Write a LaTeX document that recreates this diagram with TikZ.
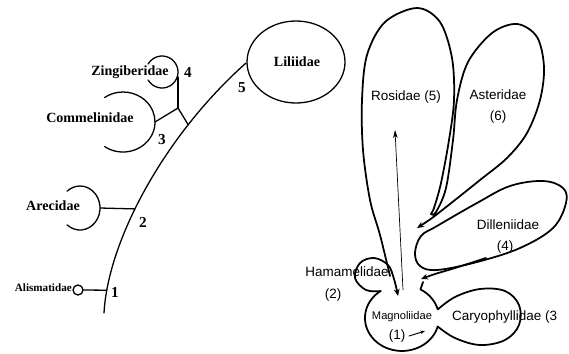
\documentclass[tikz,border=0pt]{standalone}
\usepackage{fontspec}
\setmainfont{Liberation Serif}
\setsansfont{Liberation Sans}
\usetikzlibrary{arrows.meta}
\begin{document}
\begin{tikzpicture}[x=0.03cm,y=-0.03cm,line cap=round,line join=round,
  stem/.style={line width=1.1pt},
  petal/.style={line width=1.5pt},
  grp/.style={font=\bfseries\fontsize{12}{12}\selectfont,inner sep=0pt},
  num/.style={font=\bfseries\fontsize{13}{13}\selectfont,inner sep=0pt},
  sub/.style={font=\sffamily\fontsize{11.5}{12}\selectfont,inner sep=0pt},
  tip/.style={-{Stealth[length=6pt,width=5pt]}}]
\useasboundingbox (0,0) rectangle (569,353);
\draw[stem] (104,313) .. controls (108,240) and (165,135) .. (246,63)
  coordinate[pos=0.1] (j1) coordinate[pos=0.42] (j2) coordinate[pos=0.74] (j3);
\coordinate (lilc) at (296,62);
\draw[stem] (lilc) ellipse[x radius=49,y radius=41];
\node[grp] (lil) at (297,62) {Liliidae};
\coordinate (alic) at (78,290);
\draw[stem] (alic) circle[radius=5];
\draw[stem] (83,290) -- (j1);
\node[grp,font=\bfseries\fontsize{9.5}{10}\selectfont,anchor=east] (ali) at (72,288) {Alismatidae};
\draw[stem] (80,208) ++(130:20 and 22) arc[start angle=130,end angle=-130,x radius=20,y radius=22];
\coordinate (are) at (100,208);
\draw[stem] (are) -- (j2);
\node[grp] (arel) at (53,206) {Arecidae};
\draw[stem] (123,122) ++(125:32 and 30) arc[start angle=125,end angle=-125,x radius=32,y radius=30];
\coordinate (com) at (155,122);
\coordinate (apex) at (178,108);
\draw[stem] (com) -- (apex) -- (j3);
\node[grp] (coml) at (90,118) {Commelinidae};
\draw[stem] (162,72) ++(150:16) arc[start angle=150,end angle=-150,radius=16];
\coordinate (zin) at (178,77);
\draw[stem] (zin) -- (apex);
\node[grp] (zinl) at (130,72) {Zingiberidae};
\foreach \n/\x/\y in {1/115/292,2/143/222,3/162/140,4/188/72,5/242/88}{\node[num] (n\n) at (\x,\y){\n};}
\coordinate (mag) at (402,318);
\draw[petal,tip] (423,282) -- (420.5,289.4) arc[start angle=-60,end angle=-15,x radius=37,y radius=33]
  -- plot[smooth,tension=0.6] coordinates {(437.7,309.5) (455,297) (480,289) (505,291) (519,305) (519,325) (505,340) (480,345) (455,338) (437.7,326.5)}
  arc[start angle=15,end angle=235,x radius=37,y radius=33]
  -- plot[smooth,tension=0.6] coordinates {(380.8,291) (366,290) (355,278) (360,263) (374,258) (388,265) (394,279) (398,296)};
\draw[petal,tip] plot[smooth,tension=0.55] coordinates {(390,276) (380,235) (370,200) (363,150) (362,100) (367,55) (385,22) (417,8) (440,22) (452,58) (454,100) (449,140) (441,183) (434,208) (431,214) (436,212) (446,188) (453,140) (457,100) (468,62) (492,33) (517,24) (537,37) (544,67) (540,100) (527,133) (507,158) (480,180) (455,200) (432,218) (417,228)};
\draw[petal] plot[smooth cycle,tension=0.6] coordinates {(415,253) (421,236) (437,226) (477,203) (510,186) (543,181) (563,188) (566,203) (553,228) (520,248) (477,262) (437,270) (420,266)};
\draw[petal,tip] plot[smooth] coordinates {(486,258) (455,268) (435,274) (421,279)};
\draw[line width=0.6pt,-{Stealth[length=7pt,width=4pt]}] (403,290) -- (395,130);
\draw[line width=0.8pt,-{Stealth[length=4pt,width=3pt]}] (409,336) -- (425,331);
\node[sub] (ros) at (406,97) {Rosidae (5)};
\node[sub] (ast) at (498,95) {Asteridae};
\node[sub] (astn) at (498,117) {(6)};
\node[sub] (dil) at (508,225) {Dilleniidae};
\node[sub] (diln) at (505,247) {(4)};
\node[sub] (ham) at (347,272) {Hamamelidae};
\node[sub] (hamn) at (333,295) {(2)};
\node[sub,font=\sffamily\fontsize{9.5}{10}\selectfont] (magl) at (402,317) {Magnoliidae};
\node[sub] (magn) at (397,336) {(1)};
\node[sub,anchor=west] (car) at (452,317) {Caryophyllidae (3};
\end{tikzpicture}
\end{document}
